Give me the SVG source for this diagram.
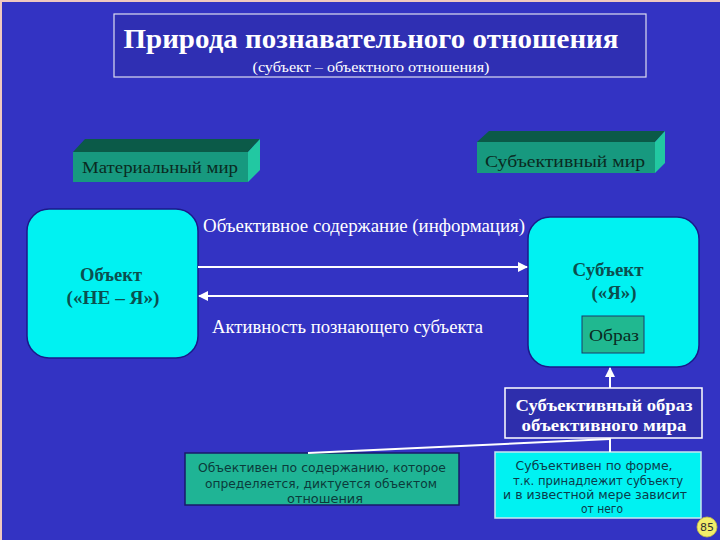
<svg xmlns="http://www.w3.org/2000/svg" width="720" height="540" viewBox="0 0 720 540">
<defs>
<style>
.serif{font-family:"Liberation Serif","DejaVu Serif",serif}
.sans{font-family:"DejaVu Sans","Liberation Sans",sans-serif}
.w{fill:#ffffff}
.dk{fill:#0b4f4f}
.cy{fill:#00f2f2;stroke:#1a1a8a;stroke-width:1.5}
.front{fill:#17997f}
.top{fill:#0b5a48}
.side{fill:#22c8a2}
.ln{stroke:#ffffff;stroke-width:2;fill:none}
</style>
<marker id="ah" viewBox="0 0 10 10" refX="9" refY="5" markerWidth="5" markerHeight="5" orient="auto-start-reverse">
<path d="M0,0 L10,5 L0,10 z" fill="#ffffff"/>
</marker>
</defs>
<rect x="0" y="0" width="720" height="540" fill="#3333c3"/>
<path d="M1,540 L1,1 L720,1" stroke="#f0c8c0" stroke-width="2" fill="none"/>

<g id="title">
<rect x="114" y="14" width="532" height="63" fill="#2f2fb3" stroke="#dcdcf0" stroke-width="1.2"/>
<text x="371" y="48" text-anchor="middle" class="serif w" font-size="27" font-weight="bold" textLength="495" lengthAdjust="spacingAndGlyphs">Природа познавательного отношения</text>
<text x="371" y="72" text-anchor="middle" class="serif w" font-size="15" textLength="237" lengthAdjust="spacingAndGlyphs">(субъект – объектного отношения)</text>
</g>

<g id="material-world">
<polygon class="top" points="73,152 85,139 260,139 248,152"/>
<polygon class="side" points="248,152 260,139 260,170 248,182"/>
<rect class="front" x="73" y="152" width="175" height="30"/>
<text x="160" y="173" text-anchor="middle" class="serif" fill="#0a2a22" font-size="17" textLength="156" lengthAdjust="spacingAndGlyphs">Материальный мир</text>
</g>

<g id="subjective-world">
<polygon class="top" points="477,142 489,131 665,131 655,142"/>
<polygon class="side" points="655,142 665,131 665,163 655,173"/>
<rect class="front" x="477" y="142" width="178" height="31"/>
<text x="565" y="167" text-anchor="middle" class="serif" fill="#0a2a22" font-size="17" textLength="160" lengthAdjust="spacingAndGlyphs">Субъективный  мир</text>
</g>

<g id="object">
<rect class="cy" x="27" y="209" width="171" height="149" rx="22"/>
<text x="111" y="281" text-anchor="middle" class="serif dk" font-size="19" font-weight="bold" textLength="62" lengthAdjust="spacingAndGlyphs">Объект</text>
<text x="113" y="304" text-anchor="middle" class="serif dk" font-size="19" font-weight="bold" textLength="93" lengthAdjust="spacingAndGlyphs">(«НЕ – Я»)</text>
</g>

<g id="subject">
<rect class="cy" x="528" y="217" width="171" height="150" rx="22"/>
<text x="608" y="276" text-anchor="middle" class="serif dk" font-size="19" font-weight="bold" textLength="71" lengthAdjust="spacingAndGlyphs">Субъект</text>
<text x="614" y="299" text-anchor="middle" class="serif dk" font-size="19" font-weight="bold" textLength="45" lengthAdjust="spacingAndGlyphs">(«Я»)</text>
</g>

<g id="image">
<rect x="582" y="316" width="62" height="37" fill="#20b890" stroke="#1a3a6a" stroke-width="1"/>
<text x="614" y="341" text-anchor="middle" class="serif" fill="#0a2a22" font-size="17" textLength="50" lengthAdjust="spacingAndGlyphs">Образ</text>
</g>

<g id="subjective-image">
<rect x="505" y="388" width="197" height="50" fill="#2e2eac" stroke="#ffffff" stroke-width="1.5"/>
<text x="604" y="411" text-anchor="middle" class="serif w" font-size="17" font-weight="bold" textLength="177" lengthAdjust="spacingAndGlyphs">Субъективный образ</text>
<text x="604" y="431" text-anchor="middle" class="serif w" font-size="17" font-weight="bold" textLength="165" lengthAdjust="spacingAndGlyphs">объективного мира</text>
</g>

<g id="objective-content">
<rect x="185" y="453" width="274" height="52" fill="#1fb495" stroke="#1a1a6a" stroke-width="1.5"/>
<text class="sans" fill="#0b3b3b" font-size="13" text-anchor="middle">
<tspan x="324" y="472" textLength="248" lengthAdjust="spacingAndGlyphs">Объективен по содержанию, которое</tspan>
<tspan x="323" y="488" textLength="232" lengthAdjust="spacingAndGlyphs">определяется, диктуется объектом</tspan>
<tspan x="325" y="503" textLength="76" lengthAdjust="spacingAndGlyphs">отношения</tspan>
</text>
</g>

<g id="subjective-form">
<rect x="495" y="452" width="206" height="66" fill="#00f2f2" stroke="#c8e8f0" stroke-width="1.5"/>
<text class="sans" fill="#0b3b4b" font-size="12" text-anchor="middle">
<tspan x="596" y="470" textLength="157" lengthAdjust="spacingAndGlyphs">Субъективен по форме,</tspan>
<tspan x="600" y="485" textLength="170" lengthAdjust="spacingAndGlyphs">т.к. принадлежит субъекту</tspan>
<tspan x="597" y="499" textLength="184" lengthAdjust="spacingAndGlyphs">и в известной мере зависит</tspan>
<tspan x="602" y="513" textLength="42" lengthAdjust="spacingAndGlyphs">от него</tspan>
</text>
</g>

<g id="connectors">
<line class="ln" x1="198" y1="267" x2="527" y2="267" marker-end="url(#ah)"/>
<text x="203" y="232" class="serif w" font-size="18" textLength="322" lengthAdjust="spacingAndGlyphs">Объективное содержание (информация)</text>
<line class="ln" x1="528" y1="296" x2="199" y2="296" marker-end="url(#ah)"/>
<text x="212" y="333" class="serif w" font-size="18" textLength="271" lengthAdjust="spacingAndGlyphs">Активность познающего субъекта</text>
<line class="ln" x1="610" y1="388" x2="610" y2="368" stroke-width="1.5" marker-end="url(#ah)"/>
<line class="ln" x1="610" y1="438" x2="610" y2="452" stroke-width="1.5"/>
<line class="ln" x1="308" y1="453" x2="610" y2="439" stroke-width="1.2"/>
</g>

<g id="page-number">
<circle cx="707" cy="527" r="10" fill="#f2ee6a" stroke="#c8c040" stroke-width="0.8"/>
<text x="707" y="531" text-anchor="middle" class="sans" fill="#333333" font-size="11">85</text>
</g>
</svg>
